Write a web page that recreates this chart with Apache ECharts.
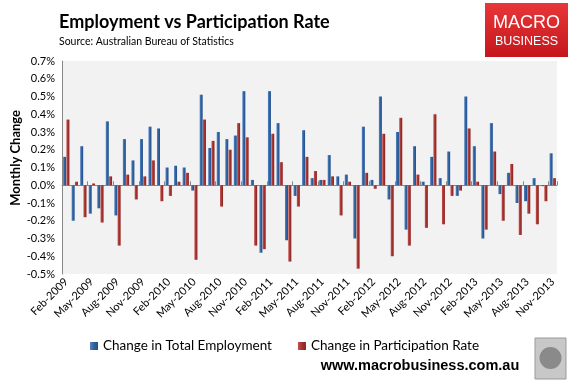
<!DOCTYPE html>
<html>
<head>
<meta charset="utf-8">
<script src="https://cdn.jsdelivr.net/npm/echarts@6/dist/echarts.min.js"></script>
<style>
html,body{margin:0;padding:0;background:#fff;}
#c{width:581px;height:382px;}
</style>
</head>
<body>
<div id="c"></div>
<script>
var categories = [
 'Feb-2009','Mar-2009','Apr-2009','May-2009','Jun-2009','Jul-2009','Aug-2009','Sep-2009','Oct-2009','Nov-2009','Dec-2009',
 'Jan-2010','Feb-2010','Mar-2010','Apr-2010','May-2010','Jun-2010','Jul-2010','Aug-2010','Sep-2010','Oct-2010','Nov-2010','Dec-2010',
 'Jan-2011','Feb-2011','Mar-2011','Apr-2011','May-2011','Jun-2011','Jul-2011','Aug-2011','Sep-2011','Oct-2011','Nov-2011','Dec-2011',
 'Jan-2012','Feb-2012','Mar-2012','Apr-2012','May-2012','Jun-2012','Jul-2012','Aug-2012','Sep-2012','Oct-2012','Nov-2012','Dec-2012',
 'Jan-2013','Feb-2013','Mar-2013','Apr-2013','May-2013','Jun-2013','Jul-2013','Aug-2013','Sep-2013','Oct-2013','Nov-2013'
];
var employment = [
 0.16,-0.20,0.22,-0.16,-0.13,0.36,-0.17,0.26,0.14,0.26,0.33,
 0.32,0.10,0.11,0.10,-0.03,0.51,0.21,0.30,0.26,0.28,0.53,0.03,
 -0.38,0.53,0.35,-0.31,-0.06,0.31,0.04,0.03,0.17,0.05,0.06,-0.30,
 0.33,0.03,0.50,-0.08,0.30,-0.25,0.22,0.02,0.16,0.04,0.19,-0.06,
 0.50,0.22,-0.30,0.35,-0.05,0.07,-0.10,-0.09,0.04,-0.005,0.18
];
var participation = [
 0.37,0.02,-0.18,0.01,-0.21,0.05,-0.34,0.06,-0.08,0.05,0.14,
 -0.09,-0.06,0.02,0.07,-0.42,0.37,0.25,-0.12,0.20,0.35,0.27,-0.34,
 -0.36,0.29,0.13,-0.43,-0.12,0.16,0.08,0.03,0.05,-0.17,0.02,-0.47,
 0.07,-0.02,0.29,-0.40,0.38,-0.34,0.06,-0.24,0.40,-0.22,-0.06,-0.03,
 0.32,0.02,-0.25,0.19,-0.20,0.12,-0.28,-0.16,-0.22,-0.09,0.04
];
var seriesNames = ['Change in Total Employment','Change in Participation Rate'];
var yTicks = {min:-0.5, max:0.7, step:0.1};

var FONT = 'Lato, "Open Sans", sans-serif';
function hgrad(a,b,c){
  return new echarts.graphic.LinearGradient(0,0,1,0,[{offset:0,color:a},{offset:0.5,color:b},{offset:1,color:c}]);
}
var chart = echarts.init(document.getElementById('c'), null, {renderer:'canvas'});
chart.setOption({
  animation:false,
  backgroundColor:'#ffffff',
  textStyle:{fontFamily:FONT},
  title:{
    text:'Employment vs Participation Rate',
    subtext:'Source: Australian Bureau of Statistics',
    left:54, top:8, itemGap:5,
    textStyle:{fontFamily:FONT,fontSize:18,fontWeight:'bold',color:'#000'},
    subtextStyle:{fontFamily:FONT,fontSize:10.5,color:'#000'}
  },
  grid:{left:62,right:24,top:61,bottom:108,show:true,backgroundColor:'#f2f2f2',borderWidth:0},
  legend:{
    data:seriesNames, left:85, top:334, itemWidth:8, itemHeight:8, itemGap:26, icon:'rect',
    textStyle:{fontFamily:FONT,fontSize:13.5,color:'#000'}
  },
  xAxis:[{
    type:'category', data:categories, position:'bottom',
    axisLine:{show:false,onZero:false}, axisTick:{show:false},
    axisLabel:{interval:2, rotate:45, fontSize:11, color:'#000', margin:6, fontFamily:FONT}
  },{
    type:'category', data:categories, position:'bottom',
    axisLine:{show:true,onZero:true,lineStyle:{color:'#888',width:1}},
    axisTick:{show:true,interval:2,inside:true,length:4,lineStyle:{color:'#888'}},
    axisLabel:{show:false}
  }],
  yAxis:{
    type:'value', min:yTicks.min, max:yTicks.max, interval:yTicks.step,
    axisLine:{show:true,lineStyle:{color:'#888'}}, axisTick:{show:false}, splitLine:{show:false},
    axisLabel:{fontSize:11,color:'#000',margin:7,fontFamily:FONT,formatter:function(v){return v.toFixed(1)+'%';}}
  },
  series:[{
    name:seriesNames[0], type:'bar', data:employment, barWidth:3, barGap:'10%',
    itemStyle:{color:hgrad('#5585c4','#2f619f','#24508a')}
  },{
    name:seriesNames[1], type:'bar', data:participation, barWidth:3, barGap:'10%',
    itemStyle:{color:hgrad('#c4504c','#a33431','#86221f')}
  }],
  graphic:[
    {type:'text', left:9, top:110, rotation:Math.PI/2,
      style:{text:'Monthly Change',fontFamily:FONT,fontSize:13,fontWeight:'bold',fill:'#000'}},
    {type:'rect', shape:{x:485,y:3,width:83,height:54},
      style:{fill:new echarts.graphic.LinearGradient(0,0,0,1,[{offset:0,color:'#e8373a'},{offset:1,color:'#c4161b'}])}},
    {type:'text', x:526.5, y:23, style:{text:'MACRO',fontFamily:'Liberation Sans, sans-serif',fontSize:18,fill:'#fff',align:'center',verticalAlign:'middle'}},
    {type:'text', x:526.5, y:42, style:{text:'BUSINESS',fontFamily:'Liberation Sans, sans-serif',fontSize:12.5,fill:'#fff',align:'center',verticalAlign:'middle'}},
    {type:'text', x:420, y:366, style:{text:'www.macrobusiness.com.au',fontFamily:'Liberation Sans, sans-serif',fontSize:14.5,fontWeight:'bold',fill:'#000',align:'center',verticalAlign:'middle'}},
    {type:'rect', shape:{x:535,y:338,width:31,height:41}, style:{fill:'#c8c8c8',stroke:'#999',lineWidth:1}},
    {type:'circle', shape:{cx:550.5,cy:358,r:11}, style:{fill:'#8a8a8a'}}
  ]
});
</script>
</body>
</html>
